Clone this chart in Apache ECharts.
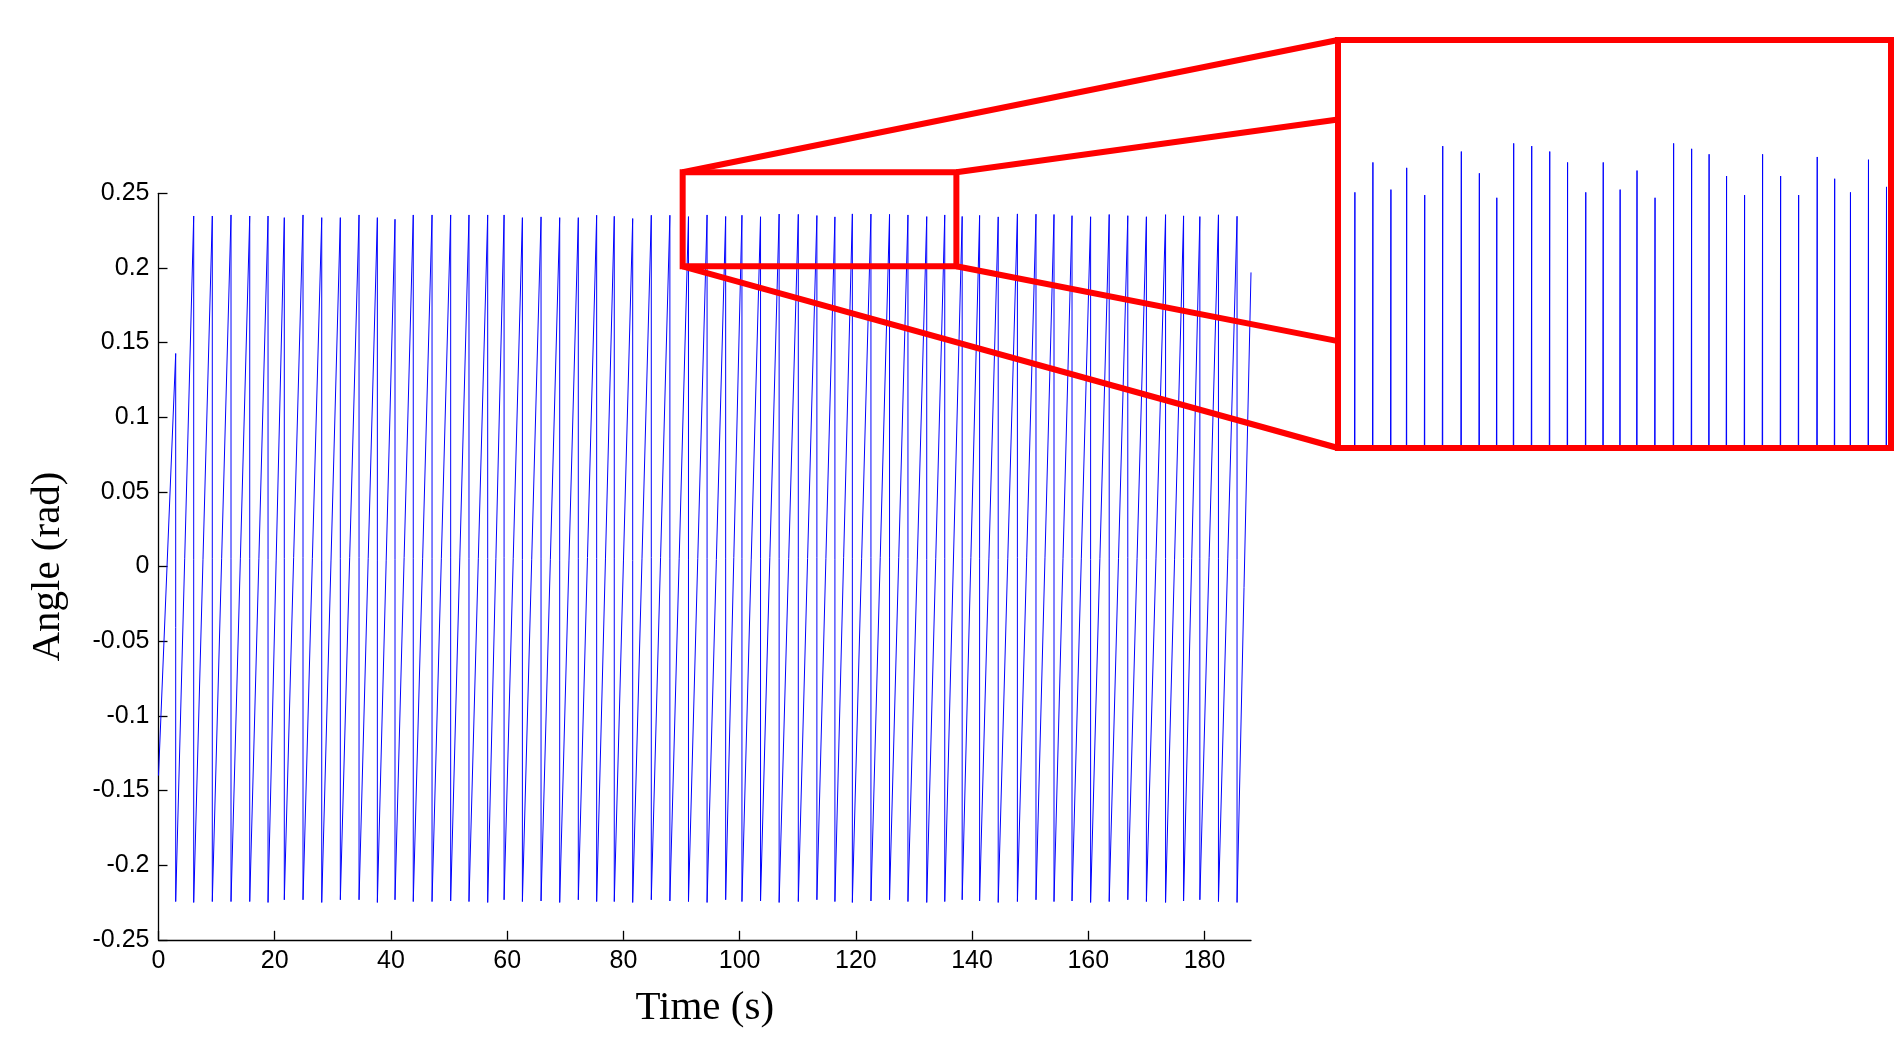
<!DOCTYPE html>
<html>
<head>
<meta charset="utf-8">
<title>Angle (rad) vs Time (s)</title>
<script src="https://cdn.jsdelivr.net/npm/echarts@6/dist/echarts.min.js"></script>
<style>
html, body {margin: 0; padding: 0; background: #fff;}
#chart {width: 1894px; height: 1064px;}
</style>
</head>
<body>
<div id="chart"></div>
<script>
var xTicks = [0, 20, 40, 60, 80, 100, 120, 140, 160, 180];
var yTicks = [-0.25, -0.2, -0.15, -0.1, -0.05, 0, 0.05, 0.1, 0.15, 0.2, 0.25];
var xMax = 188;

// signal: start, one drop per cycle (peak -> trough), end
var startPoint = [0, -0.14];
var dropTimes = [2.96, 6.06, 9.26, 12.48, 15.70, 18.85, 21.65, 24.87, 28.09, 31.29,
	34.51, 37.66, 40.70, 43.84, 47.07, 50.28, 53.43, 56.65, 59.47, 62.62,
	65.83, 69.04, 72.24, 75.40, 78.43, 81.60, 84.80, 88.00, 91.20, 94.40,
	97.60, 100.40, 103.60, 106.80, 110.10, 113.30, 116.40, 119.40, 122.60, 125.80,
	128.97, 132.20, 135.30, 138.30, 141.30, 144.50, 147.80, 151.00, 154.10, 157.20,
	160.40, 163.60, 166.80, 170.00, 173.30, 176.40, 179.20, 182.40, 185.60];
var peakValues = [0.1427, 0.2348, 0.2348, 0.2355, 0.2348, 0.2348, 0.2337, 0.2355, 0.2337, 0.2337,
	0.2355, 0.2337, 0.2326, 0.2355, 0.2355, 0.2355, 0.2355, 0.2355, 0.2355, 0.2337,
	0.2342, 0.2337, 0.2337, 0.2353, 0.2346, 0.2331, 0.2353, 0.2353, 0.2344, 0.2355,
	0.2345, 0.2353, 0.2343, 0.2361, 0.2359, 0.2351, 0.2342, 0.2362, 0.2361, 0.2359,
	0.2355, 0.2344, 0.2355, 0.2345, 0.2352, 0.2342, 0.2362, 0.2360, 0.2358, 0.2350,
	0.2343, 0.2358, 0.2350, 0.2343, 0.2357, 0.2349, 0.2344, 0.2356, 0.2346];
var troughValues = [-0.2244, -0.2250, -0.2244, -0.2244, -0.2244, -0.2250, -0.2232, -0.2232, -0.2250, -0.2232,
	-0.2232, -0.2250, -0.2232, -0.2244, -0.2244, -0.2240, -0.2244, -0.2250, -0.2232, -0.2244,
	-0.2240, -0.2250, -0.2232, -0.2244, -0.2244, -0.2250, -0.2232, -0.2240, -0.2244, -0.2250,
	-0.2232, -0.2244, -0.2240, -0.2250, -0.2244, -0.2232, -0.2244, -0.2250, -0.2240, -0.2232,
	-0.2244, -0.2250, -0.2244, -0.2232, -0.2240, -0.2250, -0.2244, -0.2232, -0.2244, -0.2240,
	-0.2250, -0.2244, -0.2232, -0.2244, -0.2250, -0.2240, -0.2232, -0.2244, -0.2250];
var endPoint = [188, 0.197];

// zoom annotation: small box in data units, inset view ranges
var zoomBox = {t0: 90.2, t1: 137.3, v0: 0.2011, v1: 0.2641};
var insetRangeX = [88.2, 186.4];
var insetRangeY = [0.225, 0.240];
var insetBox = {left: 1338, top: 40, width: 553, height: 408};
var connectorEnds = [0, 0.195, 0.738, 1]; // where the 4 lines meet the inset's left side

var points = [startPoint];
for (var i = 0; i < dropTimes.length; i++){
	points.push([dropTimes[i], peakValues[i]]);
	points.push([dropTimes[i], troughValues[i]]);
}
points.push(endPoint);

var chart = echarts.init(document.getElementById('chart'));
var tickFont = {fontFamily: 'Liberation Sans, Arial, sans-serif', fontSize: 25, color: '#000'};
var nameFont = {fontFamily: 'Liberation Serif, Times New Roman, serif', fontSize: 41, color: '#000'};

var options = {
	animation: false,
	grid: [
		{left: 158.5, right: 643, top: 193.3, bottom: 124.2},
		{left: insetBox.left, top: insetBox.top, width: insetBox.width, height: insetBox.height}
	],
	xAxis: [
		{
			type: 'value', min: 0, max: xMax, gridIndex: 0,
			name: 'Time (s)', nameLocation: 'middle', nameGap: 48, nameTextStyle: nameFont,
			axisLine: {onZero: false, lineStyle: {color: '#000', width: 1.3}},
			axisTick: {inside: true, length: 9, customValues: xTicks, lineStyle: {color: '#000', width: 1.3}},
			axisLabel: Object.assign({margin: 9, customValues: xTicks, formatter: function(v){ return String(v); }}, tickFont),
			splitLine: {show: false}
		},
		{type: 'value', min: insetRangeX[0], max: insetRangeX[1], gridIndex: 1, show: false}
	],
	yAxis: [
		{
			type: 'value', min: yTicks[0], max: yTicks[yTicks.length - 1], gridIndex: 0,
			name: 'Angle (rad)', nameLocation: 'middle', nameGap: 90, nameTextStyle: nameFont,
			axisLine: {show: true, lineStyle: {color: '#000', width: 1.3}},
			axisTick: {show: true, inside: true, length: 9, customValues: yTicks, lineStyle: {color: '#000', width: 1.3}},
			axisLabel: Object.assign({margin: 9, customValues: yTicks, formatter: function(v){ return String(v); }}, tickFont),
			splitLine: {show: false}
		},
		{type: 'value', min: insetRangeY[0], max: insetRangeY[1], gridIndex: 1, show: false}
	],
	series: [
		{name: 'Angle', type: 'line', data: points, xAxisIndex: 0, yAxisIndex: 0, showSymbol: false,
			lineStyle: {color: '#0000ff', width: 1}, z: 2},
		{name: 'Angle zoom', type: 'line', data: points, xAxisIndex: 1, yAxisIndex: 1, showSymbol: false,
			lineStyle: {color: '#0000ff', width: 1}, z: 2}
	]
};

chart.setOption(options, true);

// red zoom box, connector lines and inset frame
var tl = chart.convertToPixel({gridIndex: 0}, [zoomBox.t0, zoomBox.v1]);
var br = chart.convertToPixel({gridIndex: 0}, [zoomBox.t1, zoomBox.v0]);
var red = {stroke: '#ff0000', lineWidth: 6, fill: null};
var corners = [[tl[0], tl[1]], [br[0], tl[1]], [br[0], br[1]], [tl[0], br[1]]];
var graphics = [
	{type: 'rect', z: 100, shape: {x: tl[0], y: tl[1], width: br[0] - tl[0], height: br[1] - tl[1]}, style: red},
	{type: 'rect', z: 100, shape: {x: insetBox.left, y: insetBox.top, width: insetBox.width, height: insetBox.height}, style: red}
];
for (var k = 0; k < 4; k++){
	var c = corners[k];
	graphics.push({type: 'line', z: 100, shape: {x1: c[0], y1: c[1], x2: insetBox.left, y2: insetBox.top + connectorEnds[k] * insetBox.height},
		style: {stroke: '#ff0000', lineWidth: 6}});
}
chart.setOption({graphic: graphics});
</script>
</body>
</html>
